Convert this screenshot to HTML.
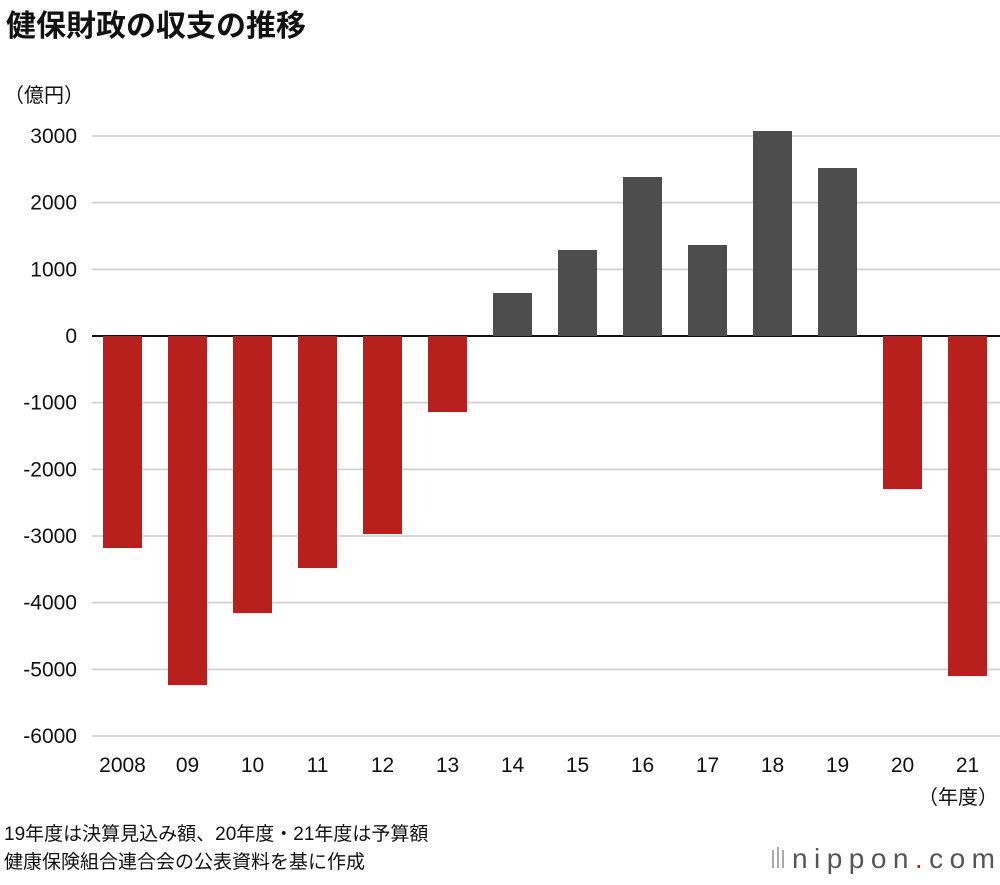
<!DOCTYPE html>
<html><head><meta charset="utf-8"><style>
body{margin:0;background:#fff;font-family:"Liberation Sans","Noto Sans CJK JP",sans-serif;}
</style></head><body>
<svg width="1000" height="880" xmlns="http://www.w3.org/2000/svg" id="chart" font-family="Liberation Sans, Noto Sans CJK JP, sans-serif">
<text x="6" y="36" font-size="30" font-weight="bold" fill="#111">健保財政の収支の推移</text>
<text x="4" y="102" font-size="20" fill="#111">（億円）</text>
<g id="grid"></g>
<g id="bars"></g>
<g id="xlabels"></g>
<text x="958" y="804" font-size="20" fill="#111" text-anchor="middle">（年度）</text>
<text x="4" y="840" font-size="19" fill="#111">19年度は決算見込み額、20年度・21年度は予算額</text>
<text x="4" y="868" font-size="19" fill="#111">健康保険組合連合会の公表資料を基に作成</text>
<g>
<rect x="772" y="850" width="2" height="18" fill="#aaa"/><rect x="777" y="847" width="2" height="21" fill="#aaa"/><rect x="782" y="850" width="2" height="18" fill="#aaa"/>
<text x="792" y="868" font-size="28" fill="#555" textLength="203" lengthAdjust="spacing">nippon<tspan fill="#c0201e">.</tspan>com</text>
</g>
</svg>
<script>
const categories=["2008","09","10","11","12","13","14","15","16","17","18","19","20","21"];
const values=[-3180,-5235,-4155,-3480,-2970,-1140,645,1290,2385,1365,3075,2520,-2295,-5100];
const ticks=[3000,2000,1000,0,-1000,-2000,-3000,-4000,-5000,-6000];
const NS="http://www.w3.org/2000/svg";
const y=v=>336-v*(600/9000);
const x=i=>122.5+65*i;
function mk(t,a,p){const e=document.createElementNS(NS,t);for(const k in a)e.setAttribute(k,a[k]);p.appendChild(e);return e;}
const grid=document.getElementById('grid');
ticks.forEach(t=>{
 const l=mk('line',{x1:92,x2:1000,y1:y(t),y2:y(t),stroke:t===0?'#111':'#ccc','stroke-width':t===0?2:1.5},grid);
 
 
 const tx=mk('text',{x:77,y:y(t)+7,'font-size':21,'text-anchor':'end',fill:'#111'},grid);
 tx.textContent=t;
 
 
});
const bars=document.getElementById('bars'),xl=document.getElementById('xlabels');
values.forEach((v,i)=>{
 const r=mk('rect',{x:x(i)-19.5,width:39,y:Math.min(y(v),y(0)),height:Math.abs(y(v)-y(0)),fill:v<0?'#b8201e':'#4d4d4d'},bars);
 
 
 const t=mk('text',{x:x(i),y:772,'font-size':21,'text-anchor':'middle',fill:'#111'},xl);
 t.textContent=categories[i];
 
 
});
</script>
</body></html>
